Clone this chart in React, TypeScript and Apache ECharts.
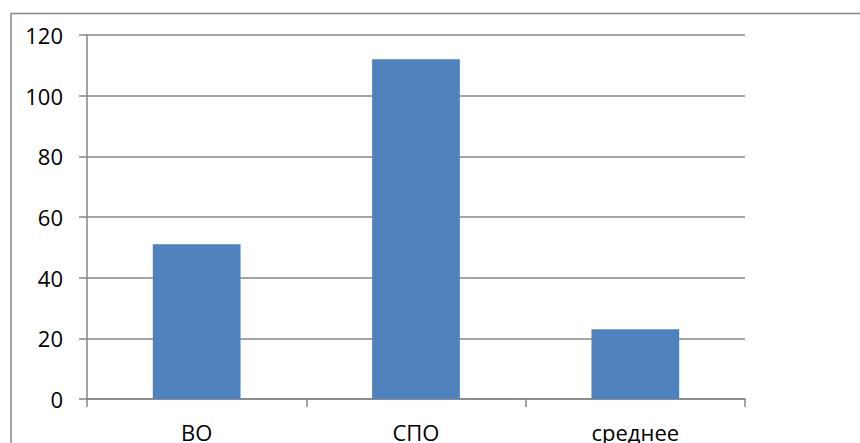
import React, { useEffect, useRef } from "react";
import * as echarts from "echarts";

const categories = ["ВО", "СПО", "среднее"];
const values = [51, 112, 23];
const yTicks = { min: 0, max: 120, interval: 20 };

export default function App() {
  const ref = useRef<HTMLDivElement>(null);
  useEffect(() => {
    if (!ref.current) return;
    const chart = echarts.init(ref.current, null, { renderer: "svg" });
    const gray = "#868686";
    chart.setOption({
      animation: false,
      backgroundColor: "#ffffff",
      textStyle: { fontFamily: "Open Sans" },
      graphic: [
        {
          type: "rect",
          shape: { x: 11, y: 13.5, width: 900, height: 500 },
          style: { fill: "none", stroke: gray, lineWidth: 1.5 },
          silent: true,
        },
      ],
      grid: { left: 87, right: 115, top: 35, bottom: 43, containLabel: false },
      xAxis: {
        type: "category",
        data: categories,
        axisLine: { show: true, lineStyle: { color: gray, width: 1.5 } },
        axisTick: { show: true, length: 8, alignWithLabel: false, lineStyle: { color: gray, width: 1.5 } },
        axisLabel: { color: "#000", fontSize: 22, margin: 22, fontFamily: "Open Sans" },
        splitLine: { show: false },
      },
      yAxis: {
        type: "value",
        min: yTicks.min,
        max: yTicks.max,
        interval: yTicks.interval,
        axisLine: { show: true, lineStyle: { color: gray, width: 1.5 } },
        axisTick: { show: true, length: 8, lineStyle: { color: gray, width: 1.5 } },
        axisLabel: { color: "#000", fontSize: 22, margin: 24, fontFamily: "Open Sans" },
        splitLine: { show: true, lineStyle: { color: gray, width: 1.5 } },
      },
      series: [
        {
          type: "bar",
          data: values,
          barWidth: "40%",
          itemStyle: { color: "#4F81BD" },
        },
      ],
    });
    return () => chart.dispose();
  }, []);
  return (
    <div
      ref={ref}
      style={{ position: "fixed", left: 0, top: 0, width: 860, height: 443 }}
    />
  );
}
